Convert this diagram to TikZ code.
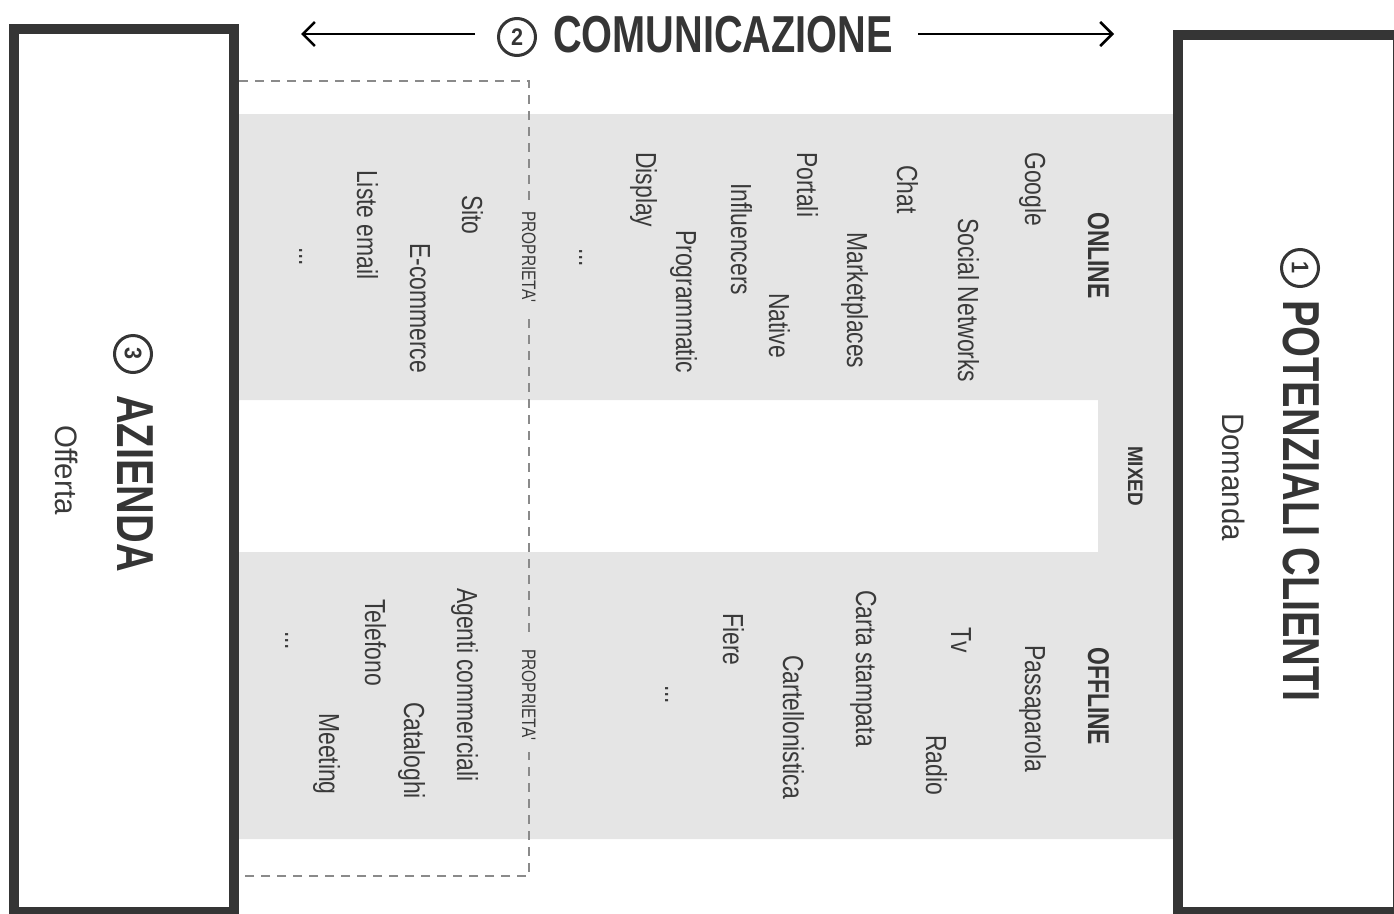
\documentclass[tikz,border=0pt]{standalone}
\usepackage{fontspec}
\setmainfont{Liberation Sans}
\newfontfamily\itemfont{Liberation Sans}[FakeStretch=0.79]
\newfontfamily\headfont{Liberation Sans}[FakeStretch=0.764]
\newfontfamily\mixfont{Liberation Sans}[FakeStretch=0.9]
\newfontfamily\subfont{Liberation Sans}[FakeStretch=0.95]
\usetikzlibrary{arrows.meta}
\definecolor{boxdark}{HTML}{353535}
\definecolor{bandgray}{HTML}{E5E5E5}
\definecolor{dashgray}{HTML}{8A8A8A}
\definecolor{ink}{HTML}{3A3A3A}
\tikzset{
  chan/.style={rotate=-90, anchor=base west, inner sep=0pt, text=ink,
    font=\itemfont\fontsize{29}{29}\selectfont},
  kind/.style={rotate=-90, anchor=base west, inner sep=0pt, text=boxdark,
    font=\headfont\bfseries\fontsize{30}{30}\selectfont},
  owned/.style={rotate=-90, anchor=base, inner xsep=12pt, inner ysep=2pt,
    fill=bandgray, text=ink, font=\itemfont\fontsize{19.5}{19.5}\selectfont},
  headline/.style={anchor=base west, inner sep=0pt, text=boxdark,
    font=\headfont\bfseries\fontsize{52}{52}\selectfont},
  subline/.style={rotate=-90, anchor=base west, inner sep=0pt, text=ink,
    font=\subfont\fontsize{31}{31}\selectfont},
  numdisc/.style={circle, draw=boxdark, line width=3pt, minimum size=37pt,
    inner sep=0pt, text=boxdark, font=\mixfont\bfseries\fontsize{24}{24}\selectfont},
  boxframe/.style={draw=boxdark, line width=10pt},
  arr/.style={-{Straight Barb[length=12pt,width=24pt]}, line width=2.5pt, black},
  owner/.style={draw=dashgray, line width=2pt, dash pattern=on 9pt off 7pt},
}
\begin{document}
\begin{tikzpicture}[x=1pt, y=-1pt]
\useasboundingbox (0,0) rectangle (1394,913);

% grey channel bands with the white gap between online and offline
\fill[bandgray, even odd rule] (239,114) rectangle (1173,839)
                               (239,400) rectangle (1098,552);

% owned-media frame
\draw[owner] (239,81) -- (529,81) -- (529,876) -- (239,876);

% the two actors
\draw[boxframe] (14,29) rectangle (234,912);
\draw[boxframe] (1177.5,34.5) rectangle (1398,912);

% communication heading with arrows
\node[numdisc] (n2) at (517,37) {2};
\node[headline] (comm) at (553,52) {COMUNICAZIONE};
\coordinate (lt) at (301,34);
\coordinate (rt) at (1114,34);
\draw[arr, shorten <=22pt] (n2.west |- lt) -- (lt);
\draw[arr, shorten <=25pt] (comm.east |- rt) -- (rt);

% clients
\node[numdisc, rotate=-90] (n1) at (1300,268) {1};
\node[headline, rotate=-90] (clients) at (1283,300) {POTENZIALI CLIENTI};
\node[subline] (demand) at (1222,413) {Domanda};

% company
\node[numdisc, rotate=-90] (n3) at (133,354) {3};
\node[headline, rotate=-90] (company) at (117,395) {AZIENDA};
\node[subline] (offer) at (55,425) {Offerta};

% online channels
\node[kind] (online) at (1088,212) {ONLINE};
\node[chan] (google) at (1025,152) {Google};
\node[chan] (social) at (958,218) {Social Networks};
\node[chan] (chat) at (897,165) {Chat};
\node[chan] (market) at (847,232) {Marketplaces};
\node[chan] (portali) at (797,152) {Portali};
\node[chan] (native) at (769,293) {Native};
\node[chan] (influ) at (731,183) {Influencers};
\node[chan] (prog) at (676,230) {Programmatic};
\node[chan] (display) at (636,152) {Display};
\node[chan] (onmore) at (579,248) {...};
\node[owned] (propon) at (522,257) {PROPRIETA'};
\node[chan] (sito) at (462,195) {Sito};
\node[chan] (ecom) at (410,243) {E-commerce};
\node[chan] (liste) at (357,170) {Liste email};
\node[chan] (ownonmore) at (299,247) {...};

% mixed
\node[kind, font=\mixfont\bfseries\fontsize{21}{21}\selectfont] (mixed) at (1128,446) {MIXED};

% offline channels
\node[kind] (offline) at (1088,647) {OFFLINE};
\node[chan] (passa) at (1025,645) {Passaparola};
\node[chan] (tv) at (951,627) {Tv};
\node[chan] (radio) at (926,735) {Radio};
\node[chan] (carta) at (856,590) {Carta stampata};
\node[chan] (cartel) at (783,655) {Cartellonistica};
\node[chan] (fiere) at (723,613) {Fiere};
\node[chan] (offmore) at (665,685) {...};
\node[owned] (propoff) at (522,695) {PROPRIETA'};
\node[chan] (agenti) at (457,588) {Agenti commerciali};
\node[chan] (catal) at (404,702) {Cataloghi};
\node[chan] (tel) at (365,599) {Telefono};
\node[chan] (meet) at (319,713) {Meeting};
\node[chan] (ownoffmore) at (285,631) {...};
\end{tikzpicture}
\end{document}
